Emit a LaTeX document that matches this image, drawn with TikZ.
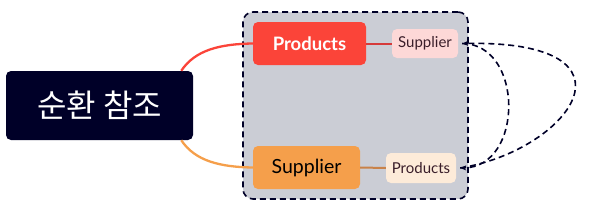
\documentclass[tikz,border=0pt]{standalone}
\usepackage{fontspec}
\setmainfont{Lato}
\newfontfamily\krfont{Noto Sans CJK KR}
\usetikzlibrary{arrows.meta}
\definecolor{navy}{HTML}{000028}
\definecolor{redc}{HTML}{FB4439}
\definecolor{orangec}{HTML}{F59F4B}
\definecolor{grayc}{HTML}{CBCDD5}
\definecolor{pinkc}{HTML}{FDD8D7}
\definecolor{creamc}{HTML}{FDEBD9}
\definecolor{redline}{HTML}{D63A3A}
\definecolor{brownline}{HTML}{C98249}
\definecolor{darktext}{HTML}{3A1E2A}
\tikzset{
  box/.style={rectangle, rounded corners=5pt, inner sep=0pt, minimum width=#1},
  dashlink/.style={draw=navy, line width=1.6pt, dash pattern=on 6pt off 4pt, -{Stealth[length=6pt,width=5pt]}},
}
\begin{document}
\begin{tikzpicture}[x=1pt,y=-1pt]
\useasboundingbox (0,0) rectangle (589,209);
\node[box=225pt, minimum height=187pt, fill=grayc, draw=navy, line width=1.6pt, dash pattern=on 6pt off 4pt, rounded corners=10pt] (grp) at (355.5,105.5) {};
\node[box=187pt, minimum height=69pt, fill=navy, text=white, font=\krfont\fontsize{32}{34}\selectfont] (center) at (99.5,105.5) {순환 참조};
\node[box=113pt, minimum height=43pt, fill=redc, text=white, font=\bfseries\fontsize{18.5}{21}\selectfont] (prod) at (309.5,43.5) {Products};
\node[box=107pt, minimum height=43pt, fill=orangec, text=black, font=\fontsize{19.5}{22}\selectfont] (supp) at (306.5,167.5) {Supplier};
\node[box=66pt, minimum height=29pt, fill=pinkc, text=darktext, font=\fontsize{15}{17}\selectfont] (sub1) at (425,43.5) {Supplier};
\node[box=70pt, minimum height=30pt, fill=creamc, text=darktext, font=\fontsize{15}{17}\selectfont] (sub2) at (421,168) {Products};
\draw[redc, line width=2.3pt] (center.23) .. controls (195,50) and (220,44) .. (prod.west);
\draw[orangec, line width=2.3pt] (center.-23) .. controls (195,161) and (220,167) .. (supp.west);
\draw[redline, line width=2pt] (prod.east) -- (sub1.west);
\draw[brownline, line width=2pt] (supp.east) -- (sub2.west);
\draw[dashlink] ([xshift=4pt]sub1.east) .. controls (524,44) and (524,167) .. ([xshift=4pt]sub2.east);
\draw[dashlink] ([xshift=4pt]sub2.east) .. controls (570,150) and (650,40) .. ([xshift=4pt]sub1.east);
\end{tikzpicture}
\end{document}
